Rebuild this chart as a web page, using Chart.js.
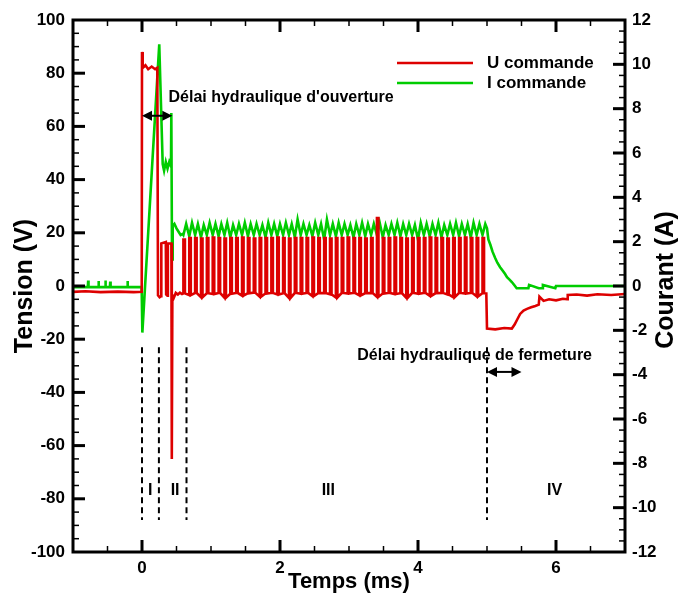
<!DOCTYPE html>
<html>
<head>
<meta charset="utf-8">
<script src="https://cdn.jsdelivr.net/npm/chart.js@4/dist/chart.umd.min.js"></script>
<style>
  html, body { margin: 0; padding: 0; background: #fff; }
  canvas { display: block; }
</style>
</head>
<body>
<canvas id="chart" width="683" height="596"></canvas>
<script>
// axis ticks
const xTicks = [0, 2, 4, 6];
const tensionTicks = [-100, -80, -60, -40, -20, 0, 20, 40, 60, 80, 100];
const courantTicks = [-12, -10, -8, -6, -4, -2, 0, 2, 4, 6, 8, 10, 12];

// U commande (V) before the PWM train, time in ms
const uStartT = [-1.0, -0.82, -0.6, -0.35, -0.12, -0.004, 0.0, 0.01, 0.05, 0.09, 0.14, 0.19, 0.222,
  0.232, 0.255, 0.278, 0.28, 0.345, 0.35, 0.368, 0.375, 0.426, 0.43, 0.434, 0.44, 0.46, 0.49, 0.52, 0.55, 0.58];
const uStartV = [-2.2, -2.0, -2.3, -2.1, -2.3, -2.2, 88, 82, 83, 81.5, 82.5, 81.5, 82,
  -3.5, -4.2, -3.8, 16, 16.5, -3.2, -3.6, 16, 16, -3, -65, -3.5, -4.5, -2.6, -3.2, -2.5, -3.0];

// PWM train: rising / falling edges (ms), high and low levels (V)
const pwmRise = [
  0.600, 0.685, 0.770, 0.855, 0.940, 1.025, 1.110, 1.195, 1.280, 1.365, 1.450, 1.535, 1.620,
  1.705, 1.790, 1.875, 1.960, 2.045, 2.130, 2.215, 2.300, 2.385, 2.470, 2.555, 2.640, 2.725,
  2.810, 2.895, 2.980, 3.065, 3.150, 3.235, 3.320, 3.405, 3.490, 3.575, 3.660, 3.745, 3.830,
  3.915, 4.000, 4.085, 4.170, 4.255, 4.340, 4.425, 4.510, 4.595, 4.680, 4.765, 4.850, 4.935];
const pwmFall = [
  0.622, 0.707, 0.792, 0.877, 0.962, 1.047, 1.132, 1.217, 1.302, 1.387, 1.472, 1.557, 1.642,
  1.727, 1.812, 1.897, 1.982, 2.067, 2.152, 2.237, 2.322, 2.407, 2.492, 2.577, 2.662, 2.747,
  2.832, 2.917, 3.002, 3.087, 3.172, 3.257, 3.342, 3.427, 3.512, 3.597, 3.682, 3.767, 3.852,
  3.937, 4.022, 4.107, 4.192, 4.277, 4.362, 4.447, 4.532, 4.617, 4.702, 4.787, 4.872, 4.957];
const pwmHigh = [
  17.5, 18, 18, 17.8, 18, 18.2, 18, 17.8, 18, 18, 18.2, 18, 17.8,
  18, 18, 18, 18.2, 18, 17.8, 18, 18, 18, 18.2, 18, 18, 17.8,
  18, 18, 18.2, 18, 18, 17.8, 18, 25.5, 18, 18, 18.2, 18, 17.8,
  18, 18, 18, 18.2, 18, 18, 17.8, 18, 18, 18.2, 18, 18, 18];
const pwmLow = [
  -2.8, -3.4, -2.6, -4.2, -2.7, -3.0, -2.6, -4.4, -2.9, -2.6, -3.6, -2.7, -2.5,
  -4.0, -2.8, -2.6, -3.2, -2.7, -4.5, -2.6, -2.9, -2.6, -3.8, -2.7, -2.6, -3.1,
  -4.3, -2.6, -2.8, -2.6, -3.5, -2.7, -2.6, -4.1, -2.8, -2.6, -3.0, -2.7, -4.4,
  -2.6, -2.9, -2.6, -3.7, -2.7, -2.6, -3.2, -4.2, -2.6, -2.8, -2.6, -3.9, -2.7];

// U commande after the train
const uEndT = [4.99, 5.0, 5.12, 5.25, 5.36, 5.4, 5.44, 5.48, 5.53, 5.58, 5.64, 5.7, 5.75, 5.76,
  5.82, 5.9, 6.0, 6.1, 6.16, 6.17, 6.3, 6.45, 6.6, 6.8, 7.0];
const uEndV = [-2.8, -16, -16.3, -15.8, -16, -14.5, -12.5, -10.5, -9.2, -8.6, -8, -7.5, -7, -4,
  -5.6, -5, -5.4, -4.8, -5, -3.4, -3.2, -3.6, -3.1, -3.4, -3.0];

// I commande (A)
const iStartT = [-1.0, -0.785, -0.78, -0.775, -0.635, -0.63, -0.625, -0.535, -0.53, -0.525,
  -0.465, -0.46, -0.455, -0.215, -0.21, -0.205, -0.005, 0.005, 0.25, 0.3, 0.32, 0.345, 0.37,
  0.395, 0.42, 0.425, 0.435, 0.445, 0.47, 0.5, 0.53, 0.56, 0.59];
const iStartV = [-0.05, -0.05, 0.25, -0.05, -0.05, 0.22, -0.05, -0.05, 0.25, -0.05,
  -0.05, 0.2, -0.05, -0.05, 0.22, -0.05, -0.05, -2.1, 10.9, 5.5, 5.2, 5.6, 5.3,
  5.6, 5.4, 7.8, 1.2, 2.7, 2.8, 2.6, 2.45, 2.3, 2.35];
// ripple during the train: troughs at the rising edges, peaks at iPeakT
const iTrough = [
  2.3, 2.25, 2.3, 2.2, 2.3, 2.3, 2.25, 2.3, 2.2, 2.3, 2.3, 2.25, 2.3,
  2.3, 2.2, 2.3, 2.25, 2.3, 2.3, 2.2, 2.3, 2.3, 2.25, 2.3, 2.1, 2.3,
  2.25, 2.3, 2.3, 2.2, 2.3, 2.25, 2.3, 2.3, 2.2, 2.3, 2.3, 2.25, 2.3,
  2.3, 2.1, 2.3, 2.25, 2.3, 2.2, 2.3, 2.3, 2.25, 2.3, 2.2, 2.3, 2.3];
const iPeakT = [
  0.640, 0.725, 0.810, 0.895, 0.980, 1.065, 1.150, 1.235, 1.320, 1.405, 1.490, 1.575, 1.660,
  1.745, 1.830, 1.915, 2.000, 2.085, 2.170, 2.255, 2.340, 2.425, 2.510, 2.595, 2.680, 2.765,
  2.850, 2.935, 3.020, 3.105, 3.190, 3.275, 3.360, 3.445, 3.530, 3.615, 3.700, 3.785, 3.870,
  3.955, 4.040, 4.125, 4.210, 4.295, 4.380, 4.465, 4.550, 4.635, 4.720, 4.805, 4.890, 4.975];
const iPeak = [
  2.8, 2.85, 2.8, 2.75, 2.85, 2.8, 2.8, 2.85, 2.75, 2.8, 2.85, 2.8, 2.8,
  2.75, 2.85, 2.8, 2.8, 2.85, 2.8, 3.0, 2.8, 2.75, 2.85, 2.8, 3.0, 2.8,
  2.85, 2.8, 2.75, 2.8, 2.85, 2.8, 2.8, 2.85, 2.75, 2.8, 2.85, 2.8, 2.8,
  2.75, 2.85, 2.8, 2.8, 2.85, 2.75, 2.8, 2.85, 2.8, 2.8, 2.85, 2.8, 2.8];
const iEndT = [5.0, 5.02, 5.05, 5.08, 5.12, 5.15, 5.19, 5.22, 5.26, 5.29, 5.33, 5.36, 5.4,
  5.43, 5.55, 5.6, 5.61, 5.75, 5.8, 5.81, 5.99, 6.0, 7.0];
const iEndV = [2.6, 2.1, 1.85, 1.55, 1.25, 1.05, 0.85, 0.72, 0.55, 0.4, 0.28, 0.18, 0.02,
  -0.1, -0.1, -0.1, 0.05, -0.1, -0.1, 0.05, -0.1, 0, 0];

// build point lists
function pairs(ts, vs) { return ts.map((t, i) => ({ x: t, y: vs[i] })); }

const uPoints = pairs(uStartT, uStartV);
pwmRise.forEach((t, k) => {
  uPoints.push({ x: t, y: pwmLow[k] }, { x: t, y: pwmHigh[k] },
               { x: pwmFall[k], y: pwmHigh[k] }, { x: pwmFall[k], y: pwmLow[k] });
});
uPoints.push(...pairs(uEndT, uEndV));

const iPoints = pairs(iStartT, iStartV);
pwmRise.forEach((t, k) => {
  iPoints.push({ x: t, y: iTrough[k] }, { x: iPeakT[k], y: iPeak[k] });
});
iPoints.push(...pairs(iEndT, iEndV));

// annotations (data units)
const phaseLines = [0, 0.245, 0.645, 5.0];
const phaseNames = ['I', 'II', 'III', 'IV'];
const phaseNameT = [0.12, 0.48, 2.7, 5.98];

const FONT = '"Liberation Sans", Arial, sans-serif';
Chart.defaults.font.family = FONT;
Chart.defaults.font.weight = 'bold';
Chart.defaults.font.size = 17;
Chart.defaults.color = '#000';

const overlay = {
  id: 'overlay',
  afterDraw(chart) {
    const { ctx, chartArea: a } = chart;
    const sx = chart.scales.x, sy = chart.scales.y, sy2 = chart.scales.y2;
    ctx.save();
    ctx.strokeStyle = '#000';
    ctx.fillStyle = '#000';

    const seg = (x1, y1, x2, y2, w) => {
      ctx.lineWidth = w;
      ctx.beginPath(); ctx.moveTo(x1, y1); ctx.lineTo(x2, y2); ctx.stroke();
    };

    // inward ticks
    for (let t = -0.5; t < 7; t += 0.5) {
      const px = sx.getPixelForValue(t);
      const major = xTicks.includes(t);
      const len = major ? 12 : 6, w = major ? 3 : 1.5;
      seg(px, a.bottom, px, a.bottom - len, w);
      seg(px, a.top, px, a.top + len, w);
    }
    for (let v = -95; v < 100; v += 5) {
      const py = sy.getPixelForValue(v);
      const major = tensionTicks.includes(v);
      seg(a.left, py, a.left + (major ? 12 : 6), py, major ? 3 : 1.5);
    }
    for (let v = -11.5; v < 12; v += 0.5) {
      const py = sy2.getPixelForValue(v);
      const major = courantTicks.includes(v);
      seg(a.right, py, a.right - (major ? 12 : 6), py, major ? 3 : 1.5);
    }

    // frame
    ctx.lineWidth = 3;
    ctx.strokeRect(a.left, a.top, a.right - a.left, a.bottom - a.top);

    // phase separators
    ctx.setLineDash([6, 4]);
    phaseLines.forEach(t => {
      const px = sx.getPixelForValue(t);
      seg(px, sy.getPixelForValue(-23), px, sy.getPixelForValue(-88), 2);
    });
    ctx.setLineDash([]);

    ctx.font = 'bold 16px ' + FONT;
    ctx.textAlign = 'center';
    ctx.textBaseline = 'middle';
    phaseNames.forEach((n, i) => {
      ctx.fillText(n, sx.getPixelForValue(phaseNameT[i]), sy.getPixelForValue(-77));
    });

    // double arrows
    const arrow = (t0, t1, v) => {
      const x0 = sx.getPixelForValue(t0), x1 = sx.getPixelForValue(t1), y = sy.getPixelForValue(v);
      seg(x0 + 6, y, x1 - 6, y, 2);
      ctx.beginPath();
      ctx.moveTo(x0, y); ctx.lineTo(x0 + 10, y - 5); ctx.lineTo(x0 + 10, y + 5); ctx.closePath();
      ctx.moveTo(x1, y); ctx.lineTo(x1 - 10, y - 5); ctx.lineTo(x1 - 10, y + 5); ctx.closePath();
      ctx.fill();
    };
    arrow(0, 0.44, 64);
    arrow(5.0, 5.5, -32.3);

    ctx.textAlign = 'left';
    ctx.fillText("Délai hydraulique d'ouverture", sx.getPixelForValue(0.384), sy.getPixelForValue(71));
    ctx.fillText('Délai hydraulique de fermeture', sx.getPixelForValue(3.12), sy.getPixelForValue(-26.3));

    // legend
    ctx.font = 'bold 17px ' + FONT;
    chart.data.datasets.forEach((ds, i) => {
      const y = 63 + i * 20;
      ctx.strokeStyle = ds.borderColor;
      seg(397, y, 473, y, 2.5);
      ctx.fillText(ds.label, 487, y);
    });

    // axis titles
    ctx.font = 'bold 22px ' + FONT;
    ctx.textAlign = 'center';
    ctx.fillText('Temps (ms)', (a.left + a.right) / 2, 582);
    ctx.font = 'bold 25px ' + FONT;
    const cy = (a.top + a.bottom) / 2;
    ctx.save(); ctx.translate(25, cy); ctx.rotate(-Math.PI / 2);
    ctx.fillText('Tension (V)', 0, 0); ctx.restore();
    ctx.save(); ctx.translate(666, cy - 6); ctx.rotate(-Math.PI / 2);
    ctx.fillText('Courant (A)', 0, 0); ctx.restore();

    ctx.restore();
  }
};

const ctx = document.getElementById('chart').getContext('2d');
const chart = new Chart(ctx, {
  type: 'line',
  data: {
    datasets: [
      { label: 'U commande', data: uPoints, yAxisID: 'y',
        borderColor: '#dd0000', borderWidth: 2.6, pointRadius: 0, tension: 0 },
      { label: 'I commande', data: iPoints, yAxisID: 'y2',
        borderColor: '#00cc00', borderWidth: 2.6, pointRadius: 0, tension: 0 }
    ]
  },
  options: {
    responsive: false,
    animation: false,
    layout: { padding: { top: 20, left: 0, right: 0, bottom: 0 } },
    plugins: { legend: { display: false }, tooltip: { enabled: false } },
    scales: {
      x: {
        type: 'linear', position: 'bottom', min: -1, max: 7,
        afterBuildTicks: s => { s.ticks = xTicks.map(v => ({ value: v })); },
        afterFit: s => { s.height = 44; },
        grid: { display: false, drawTicks: false },
        border: { display: false },
        ticks: { padding: 6, maxRotation: 0 }
      },
      y: {
        type: 'linear', position: 'left', min: -100, max: 100,
        afterBuildTicks: s => { s.ticks = tensionTicks.map(v => ({ value: v })); },
        afterFit: s => { s.width = 73; },
        grid: { display: false, drawTicks: false },
        border: { display: false },
        ticks: { padding: 8 }
      },
      y2: {
        type: 'linear', position: 'right', min: -12, max: 12,
        afterBuildTicks: s => { s.ticks = courantTicks.map(v => ({ value: v })); },
        afterFit: s => { s.width = 58; },
        grid: { display: false, drawTicks: false },
        border: { display: false },
        ticks: { padding: 7 }
      }
    }
  },
  plugins: [overlay]
});
</script>
</body>
</html>
